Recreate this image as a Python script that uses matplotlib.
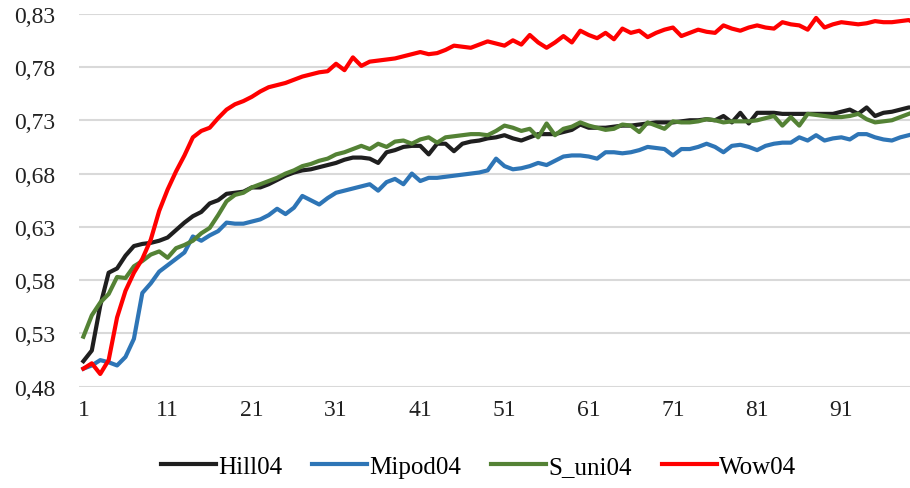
import matplotlib
matplotlib.use("Agg")
import matplotlib.pyplot as plt
import numpy as np

# values, one per epoch (1..100)
hill04 = [0.504, 0.514, 0.556, 0.587, 0.591, 0.603, 0.612, 0.614, 0.615, 0.617,
          0.620, 0.627, 0.634, 0.640, 0.644, 0.652, 0.655, 0.661, 0.662, 0.663,
          0.667, 0.667, 0.670, 0.674, 0.678, 0.681, 0.683, 0.684, 0.686, 0.688,
          0.690, 0.693, 0.695, 0.695, 0.694, 0.690, 0.700, 0.702, 0.705, 0.706,
          0.706, 0.698, 0.708, 0.708, 0.701, 0.708, 0.710, 0.711, 0.713, 0.714,
          0.716, 0.713, 0.711, 0.714, 0.717, 0.717, 0.717, 0.719, 0.721, 0.726,
          0.723, 0.723, 0.723, 0.724, 0.725, 0.725, 0.726, 0.727, 0.728, 0.728,
          0.728, 0.729, 0.730, 0.730, 0.731, 0.730, 0.734, 0.728, 0.737, 0.727,
          0.737, 0.737, 0.737, 0.736, 0.736, 0.736, 0.736, 0.736, 0.736, 0.736,
          0.738, 0.740, 0.736, 0.742, 0.734, 0.737, 0.738, 0.740, 0.742, 0.742]

mipod04 = [0.497, 0.500, 0.505, 0.503, 0.500, 0.508, 0.525, 0.568, 0.577, 0.588,
           0.594, 0.600, 0.606, 0.621, 0.617, 0.622, 0.626, 0.634, 0.633, 0.633,
           0.635, 0.637, 0.641, 0.647, 0.642, 0.648, 0.659, 0.655, 0.651, 0.657,
           0.662, 0.664, 0.666, 0.668, 0.670, 0.664, 0.672, 0.675, 0.670, 0.680,
           0.673, 0.676, 0.676, 0.677, 0.678, 0.679, 0.680, 0.681, 0.683, 0.694,
           0.687, 0.684, 0.685, 0.687, 0.690, 0.688, 0.692, 0.696, 0.697, 0.697,
           0.696, 0.694, 0.700, 0.700, 0.699, 0.700, 0.702, 0.705, 0.704, 0.703,
           0.697, 0.703, 0.703, 0.705, 0.708, 0.705, 0.700, 0.706, 0.707, 0.705,
           0.702, 0.706, 0.708, 0.709, 0.709, 0.714, 0.711, 0.716, 0.711, 0.713,
           0.714, 0.712, 0.717, 0.717, 0.714, 0.712, 0.711, 0.714, 0.716, 0.718]

s_uni04 = [0.527, 0.547, 0.559, 0.567, 0.583, 0.582, 0.593, 0.598, 0.604, 0.607,
           0.601, 0.610, 0.613, 0.617, 0.624, 0.629, 0.641, 0.654, 0.660, 0.662,
           0.667, 0.670, 0.673, 0.676, 0.680, 0.683, 0.687, 0.689, 0.692, 0.694,
           0.698, 0.700, 0.703, 0.706, 0.703, 0.708, 0.705, 0.710, 0.711, 0.708,
           0.712, 0.714, 0.709, 0.714, 0.715, 0.716, 0.717, 0.717, 0.716, 0.720,
           0.725, 0.723, 0.720, 0.722, 0.714, 0.727, 0.716, 0.722, 0.724, 0.728,
           0.725, 0.723, 0.721, 0.722, 0.726, 0.725, 0.719, 0.728, 0.725, 0.722,
           0.729, 0.728, 0.728, 0.729, 0.731, 0.730, 0.728, 0.729, 0.729, 0.729,
           0.730, 0.732, 0.734, 0.725, 0.733, 0.725, 0.736, 0.735, 0.734, 0.733,
           0.733, 0.734, 0.736, 0.731, 0.728, 0.729, 0.730, 0.733, 0.736, 0.739]

wow04 = [0.497, 0.502, 0.492, 0.505, 0.545, 0.570, 0.587, 0.600, 0.618, 0.645,
         0.665, 0.682, 0.697, 0.714, 0.720, 0.723, 0.732, 0.740, 0.745, 0.748,
         0.752, 0.757, 0.761, 0.763, 0.765, 0.768, 0.771, 0.773, 0.775, 0.776,
         0.783, 0.777, 0.789, 0.781, 0.785, 0.786, 0.787, 0.788, 0.790, 0.792,
         0.794, 0.792, 0.793, 0.796, 0.800, 0.799, 0.798, 0.801, 0.804, 0.802,
         0.800, 0.805, 0.801, 0.810, 0.803, 0.798, 0.803, 0.809, 0.803, 0.814,
         0.810, 0.807, 0.812, 0.806, 0.816, 0.812, 0.814, 0.808, 0.812, 0.815,
         0.817, 0.809, 0.812, 0.815, 0.813, 0.812, 0.819, 0.816, 0.814, 0.817,
         0.819, 0.817, 0.816, 0.822, 0.820, 0.819, 0.815, 0.826, 0.817, 0.820,
         0.822, 0.821, 0.820, 0.821, 0.823, 0.822, 0.822, 0.823, 0.824, 0.820]

series_names = ["Hill04", "Mipod04", "S_uni04", "Wow04"]
series_colors = ["#1f1f1f", "#2e75b6", "#548235", "#ff0000"]

x_ticks = [1, 11, 21, 31, 41, 51, 61, 71, 81, 91]
y_ticks = [0.48, 0.53, 0.58, 0.63, 0.68, 0.73, 0.78, 0.83]

plt.rcParams["font.family"] = ["Liberation Serif", "DejaVu Serif"]

fig = plt.figure(figsize=(9.1, 4.89), dpi=100)
ax = fig.add_axes([0.087, 0.207, 0.913, 0.763])

epochs = np.arange(1, len(hill04) + 1)
for vals, name, col in zip([hill04, mipod04, s_uni04, wow04], series_names, series_colors):
    ax.plot(epochs, vals, color=col, lw=3, label=name, solid_joinstyle="round")

ax.set_xlim(0.5, 99.15)
ax.set_ylim(0.48, 0.83)
ax.set_xticks(x_ticks)
ax.set_xticklabels([str(t) for t in x_ticks])
ax.set_yticks(y_ticks)
ax.set_yticklabels([("%.2f" % t).replace(".", ",") for t in y_ticks])
ax.tick_params(axis="both", length=0, labelsize=17, colors="#222222")
ax.tick_params(axis="y", pad=17)
ax.tick_params(axis="x", pad=9)

ax.grid(axis="y", color="#d9d9d9", lw=1.5)
ax.set_axisbelow(True)
for s in ax.spines.values():
    s.set_visible(False)

fig.legend(loc="center", bbox_to_anchor=(0.526, 0.043), ncol=4, frameon=False,
           fontsize=18, handlelength=2.2, handletextpad=0.08, columnspacing=1.2)

fig.savefig("out.png", dpi=100)
